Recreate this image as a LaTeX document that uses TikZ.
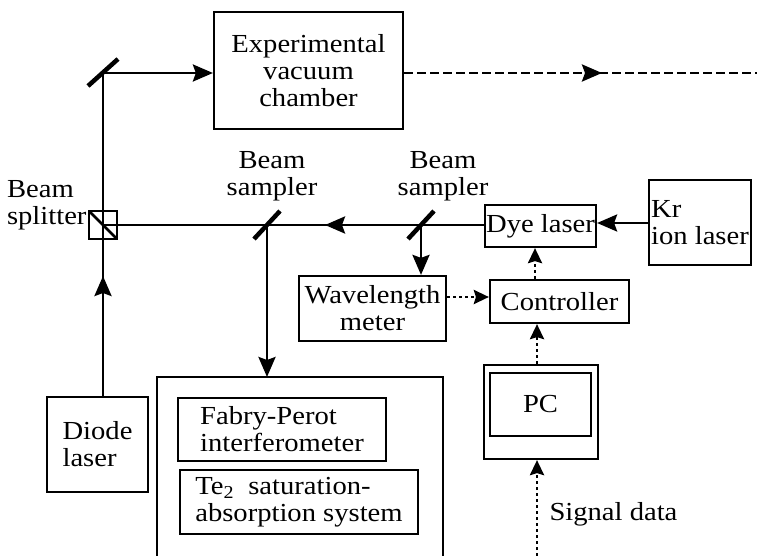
\documentclass[tikz,border=0pt]{standalone}
\usepackage{fontspec}
\setmainfont{Liberation Serif}[FakeStretch=1.1]
\usetikzlibrary{arrows.meta}

\begin{document}
\begin{tikzpicture}[x=1pt,y=-1pt,font=\fontsize{26}{27}\selectfont,
		box/.style={draw,line width=2.2pt,inner sep=0pt,align=center},
		beam/.style={line width=2.8pt},
		tip/.style={-{Stealth[length=20pt,width=17pt,inset=3pt]}},
		sig/.style={line width=2.8pt,dash pattern=on 3pt off 3pt,-{Stealth[length=15pt,width=14pt,inset=2pt]}},
		mirror/.style={line width=4.5pt}]
			\useasboundingbox (0,0) rectangle (757,556);
			% boxes
			\node[box,minimum width=189pt,minimum height=117pt] (vac) at (308.5,70.5) {Experimental\\vacuum\\chamber};
			\node[box,minimum width=101pt,minimum height=95pt,align=left] (diode) at (97.5,444.5) {Diode\\laser};
			\node[box,minimum width=147pt,minimum height=65pt] (wave) at (372.5,308.5) {Wavelength\\meter};
			\node[box,minimum width=139pt,minimum height=43pt] (ctrl) at (559.5,301.5) {Controller};
			\node[box,minimum width=111pt,minimum height=42pt] (dye) at (540.5,226) {Dye laser};
			\node[box,minimum width=102pt,minimum height=85pt,align=left] (kr) at (700,222.5) {Kr\\ion laser};
			\node[box,minimum width=114pt,minimum height=94pt] (pc) at (541,412) {};
			\node[box,minimum width=101pt,minimum height=63pt] (pcin) at (540.5,404.5) {PC};
			\node[box,minimum width=208pt,minimum height=63pt,align=left] (fp) at (282,429.5) {Fabry-Perot\\interferometer};
			\node[box,minimum width=238pt,minimum height=64pt,align=left] (te) at (299,502) {Te\textsubscript{2}\ \ saturation-\\absorption system};
			\draw[line width=2.2pt] (157,556) -- (157,377) coordinate (det) -- (443,377) -- (443,556);
			% optics
			\coordinate (m1) at (103,73);
			\coordinate (bs) at (103,225);
			\coordinate (s1) at (267,225);
			\coordinate (s2) at (421,225);
			\draw[beam] (bs) ++(-14,-14) rectangle ++(28,28);
			\draw[beam] (bs) ++(-14,-14) -- ++(28,28);
			\draw[mirror] (m1) ++(-15,13) -- ++(30,-27);
			\draw[mirror] (s1) ++(-13,14) -- ++(26,-28);
			\draw[mirror] (s2) ++(-13,14) -- ++(26,-28);
			\node[align=left,anchor=east] (bslab) at (90,205) {Beam\\splitter};
			\node[align=center] (s1lab) at (272,176) {Beam\\sampler};
			\node[align=center] (s2lab) at (443,176) {Beam\\sampler};
			% beams
			\coordinate (t1) at (103,276);
			\coordinate (t2) at (325,225);
			\coordinate (t3) at (602,73);
			\coordinate (far) at (757,73);
			\draw[beam] (bs |- diode.north) -- (bs) -- (m1);
			\draw[beam,tip] (bs |- diode.north) -- (t1);
			\draw[beam,tip] (m1) -- (m1 -| vac.west);
			\draw[beam] (dye.west |- bs) -- (bs);
			\draw[beam,tip] (dye.west |- bs) -- (t2);
			\draw[beam,tip] (kr.west |- 0,223) -- (dye.east |- 0,223);
			\draw[beam,tip] (s1) -- (det -| s1);
			\draw[beam,tip] (s2) -- (wave.north -| s2);
			\draw[beam,dash pattern=on 9pt off 4pt] (m1 -| vac.east) -- (far);
			\draw[beam,tip,dash pattern=on 9pt off 4pt] (m1 -| vac.east) -- (t3);
			% signals
			\coordinate (sd) at (537,556);
			\draw[sig] (wave.east |- 0,297) -- (ctrl.west |- 0,297);
			\draw[sig] (ctrl.north -| 535,0) -- (dye.south -| 535,0);
			\draw[sig] (pc.north -| sd) -- (ctrl.south -| sd);
			\draw[sig] (sd) -- (pc.south -| sd);
			\node[anchor=west] (sdlab) at (546,514) {Signal data};
		\end{tikzpicture}
\end{document}
